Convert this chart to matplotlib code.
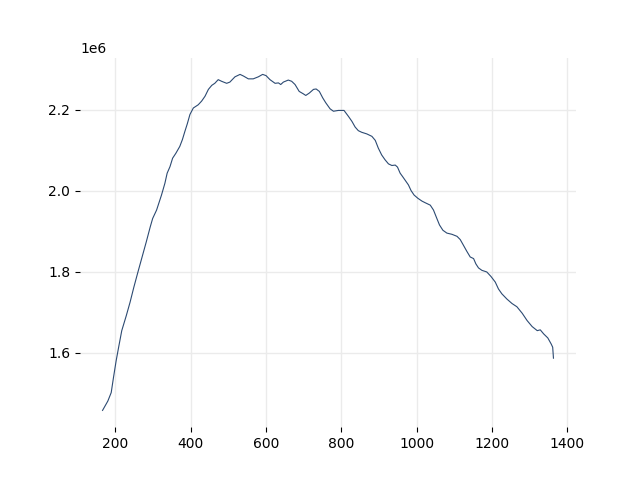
import matplotlib
matplotlib.use("Agg")
import matplotlib.pyplot as plt

x_vals = [166, 180, 189, 195, 202, 208.5, 217, 229, 239, 249, 260, 271, 282, 292.5,
          299, 309.5, 322.5, 331.5, 337.5, 345, 352, 360.5, 371, 378, 384.5, 391, 398,
          407, 420, 429, 438, 447, 456, 464, 473, 482, 495.5, 504, 517.5, 531, 540,
          553, 566, 579.5, 591, 600, 610.5, 624, 633, 639, 646, 659, 668, 677, 688,
          699, 705.5, 715, 726, 733, 741.5, 750.5, 758.5, 770, 779, 792, 807, 819,
          828, 836.5, 845, 854, 867.5, 881, 890, 898, 907, 916, 925, 934, 943, 949,
          956, 963, 969, 978, 985, 993, 1003, 1014, 1022.5, 1036, 1044.5, 1053.5,
          1060.5, 1069.5, 1080, 1093.5, 1107, 1115.5, 1124, 1133, 1142, 1151, 1157,
          1164, 1173, 1186, 1197, 1208.5, 1217, 1226, 1239.5, 1253, 1266, 1280, 1293,
          1306.5, 1320, 1328, 1337, 1348, 1357, 1361, 1363]
y_vals = [1.457, 1.480, 1.501, 1.538, 1.579, 1.612, 1.654, 1.691, 1.724, 1.761, 1.799,
          1.836, 1.873, 1.910, 1.931, 1.952, 1.989, 2.018, 2.043, 2.059, 2.080, 2.092,
          2.109, 2.126, 2.146, 2.165, 2.188, 2.204, 2.212, 2.221, 2.233, 2.250, 2.260,
          2.265, 2.274, 2.270, 2.265, 2.268, 2.281, 2.287, 2.283, 2.276, 2.276, 2.281,
          2.287, 2.284, 2.274, 2.265, 2.266, 2.262, 2.268, 2.273, 2.270, 2.262, 2.245,
          2.239, 2.235, 2.241, 2.250, 2.251, 2.245, 2.229, 2.217, 2.202, 2.196, 2.198,
          2.198, 2.183, 2.171, 2.157, 2.148, 2.144, 2.140, 2.134, 2.124, 2.105, 2.088,
          2.076, 2.066, 2.062, 2.063, 2.058, 2.043, 2.034, 2.026, 2.014, 2.000, 1.989,
          1.981, 1.974, 1.970, 1.964, 1.952, 1.931, 1.915, 1.902, 1.895, 1.892, 1.887,
          1.879, 1.865, 1.850, 1.836, 1.832, 1.819, 1.809, 1.803, 1.799, 1.788, 1.774,
          1.757, 1.745, 1.732, 1.721, 1.713, 1.697, 1.679, 1.664, 1.654, 1.656, 1.646,
          1.636, 1.621, 1.613, 1.586]

y_abs = [v * 1e6 for v in y_vals]

fig, ax = plt.subplots(figsize=(6.4, 4.8), dpi=100)
ax.plot(x_vals, y_abs, color="#2c4a72", linewidth=0.8)
ax.grid(True, color="#ebebeb", linewidth=1.0)
ax.set_axisbelow(True)
for s in ax.spines.values():
    s.set_visible(False)
ax.set_xticks([200, 400, 600, 800, 1000, 1200, 1400])
ax.set_yticks([1.6e6, 1.8e6, 2.0e6, 2.2e6])
fig.savefig("out.png", dpi=100)
